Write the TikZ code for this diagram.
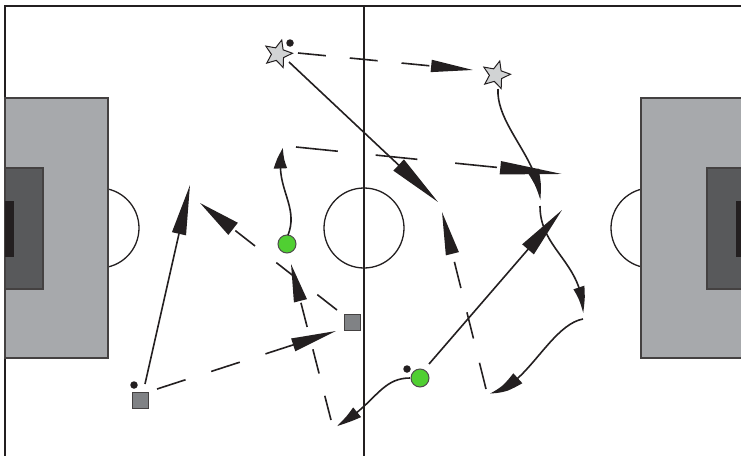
\documentclass[tikz,border=0pt]{standalone}
\usetikzlibrary{arrows.meta,shapes.geometric,bending}
\definecolor{ink}{HTML}{231F20}
\definecolor{boxgray}{HTML}{A7A9AC}
\definecolor{areagray}{HTML}{58595B}
\definecolor{stargray}{HTML}{D1D3D4}
\definecolor{sqgray}{HTML}{808285}
\definecolor{pgreen}{HTML}{50CF32}
\begin{document}
\begin{tikzpicture}[x=1pt,y=-1pt,
  fieldline/.style={draw=ink,line width=1.3pt},
  penbox/.style={draw=ink!85,fill=boxgray,line width=1.3pt},
  goalbox/.style={draw=ink!85,fill=areagray,line width=1.3pt},
  goalmouth/.style={fill=ink},
  starplayer/.style={star,star points=5,star point ratio=2.2,minimum size=29pt,inner sep=0pt,draw=ink,fill=stargray,line width=1pt,rotate=-15},
  greenplayer/.style={circle,minimum size=18pt,inner sep=0pt,draw=ink!80,fill=pgreen,line width=1pt},
  sqplayer/.style={rectangle,minimum size=16pt,inner sep=0pt,draw=ink!85,fill=sqgray,line width=1pt},
  ball/.style={circle,minimum size=7.5pt,inner sep=0pt,fill=ink},
  conn/.style={draw=ink,line width=1.6pt},
]
\useasboundingbox (0,0) rectangle (741,455);
\clip (0,0) rectangle (741,455);
% field
\draw[fieldline] (5,460) -- (5,6) -- (750,6);
\draw[fieldline] (364,6) -- (364,460);
\draw[fieldline] (364,228) circle[radius=40];
\draw[fieldline] (99,228) circle[radius=40];
\draw[fieldline] (651,228) circle[radius=40];
% left penalty area
\draw[penbox] (5,98) rectangle (108,358);
\draw[goalbox] (5,168) rectangle (43,289);
\fill[goalmouth] (5,201) rectangle (14,257);
% right penalty area
\draw[penbox] (641,98) rectangle (760,358);
\draw[goalbox] (707,168) rectangle (760,289);
\fill[goalmouth] (736,201) rectangle (760,257);
% players
\node[starplayer] (s1) at (278,54) {};
\node[starplayer] (s2) at (496,75) {};
\node[greenplayer] (g1) at (287,244) {};
\node[greenplayer] (g2) at (420,378) {};
\node[sqplayer] (q1) at (352,322) {};
\node[sqplayer] (q2) at (140,400) {};
\node[ball] (b1) at (290,43) {};
\node[ball] (b2) at (134,385) {};
\node[ball] (b3) at (407,369) {};
% connector end points
\coordinate (a1s) at (298,53);  \coordinate (a1e) at (473,70);
\coordinate (a2s) at (289,62);  \coordinate (a2e) at (438,202);
\coordinate (a3s) at (296,147); \coordinate (a3e) at (562,174);
\coordinate (a4s) at (498,89);  \coordinate (a4e) at (540,200);
\coordinate (a5s) at (540,206); \coordinate (a5e) at (583,313);
\coordinate (a6s) at (583,319); \coordinate (a6e) at (490,393);
\coordinate (a7s) at (429,364); \coordinate (a7e) at (562,210);
\coordinate (a8s) at (410,378); \coordinate (a8e) at (337,426);
\coordinate (a9s) at (486,389); \coordinate (a9e) at (442,212);
\coordinate (a10s) at (337,310); \coordinate (a10e) at (200,203);
\coordinate (a11s) at (331,420); \coordinate (a11e) at (291,264);
\coordinate (a12s) at (157,389); \coordinate (a12e) at (336,331);
\coordinate (a13s) at (145,384); \coordinate (a13e) at (190,185);
\coordinate (a14s) at (288,235); \coordinate (a14e) at (283,148);
% dashed runs / passes
\draw[conn,dash pattern=on 28pt off 24pt,-{Triangle[length=42pt,width=12pt]}] (a1s) -- (a1e);
\draw[conn,dash pattern=on 42pt off 38pt,-{Triangle[length=62pt,width=13pt]}] (a3s) -- (a3e);
\draw[conn,dash pattern=on 27pt off 25pt,-{Triangle[length=43pt,width=13pt]}] (a9s) -- (a9e);
\draw[conn,dash pattern=on 25pt off 27pt,-{Triangle[length=42pt,width=15pt]}] (a10s) -- (a10e);
\draw[conn,dash pattern=on 25pt off 23pt,-{Triangle[length=38pt,width=13pt]}] (a11s) -- (a11e);
\draw[conn,dash pattern=on 30pt off 27pt,-{Triangle[length=45pt,width=13pt]}] (a12s) -- (a12e);
% solid straight
\draw[conn,-{Triangle[length=54pt,width=15pt]}] (a2s) -- (a2e);
\draw[conn,-{Triangle[length=52pt,width=15pt]}] (a7s) -- (a7e);
\draw[conn,-{Triangle[length=50pt,width=14pt]}] (a13s) -- (a13e);
% solid curved
\draw[conn,-{Triangle[length=30pt,width=11pt,bend]}] (a4s) .. controls (496,125) and (540,160) .. (a4e);
\draw[conn,-{Triangle[length=28pt,width=11pt,bend]}] (a5s) .. controls (540,250) and (583,262) .. (a5e);
\draw[conn,-{Triangle[length=30pt,width=13pt,bend]}] (a6s) .. controls (550,325) and (525,390) .. (a6e);
\draw[conn,-{Triangle[length=26pt,width=12pt,bend]}] (a8s) .. controls (380,378) and (375,405) .. (a8e);
\draw[conn,-{Triangle[length=22pt,width=13pt,bend]}] (a14s) .. controls (300,205) and (272,185) .. (a14e);
\end{tikzpicture}
\end{document}
